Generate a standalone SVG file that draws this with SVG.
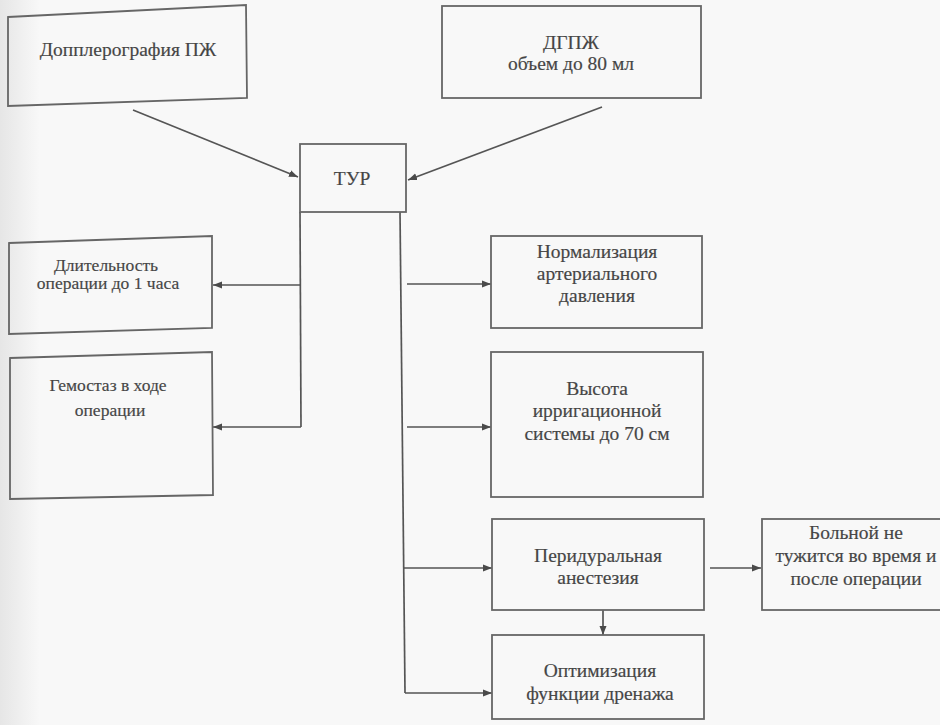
<svg xmlns="http://www.w3.org/2000/svg" width="940" height="725" viewBox="0 0 940 725">
  <defs>
    <linearGradient id="scan" x1="0" y1="0" x2="1" y2="0">
      <stop offset="0" stop-color="#e6e6e6"/>
      <stop offset="1" stop-color="#f8f8f8"/>
    </linearGradient>
    <marker id="ah" markerUnits="userSpaceOnUse" markerWidth="10" markerHeight="8" refX="9" refY="4" orient="auto">
      <path d="M0,0.5 L9,4 L0,7.5 z" fill="#4a4a4a"/>
    </marker>
    <style>
      .box { fill: none; stroke: #666; stroke-width: 1.8; }
      .con { fill: none; stroke: #555; stroke-width: 1.7; }
      .arr { marker-end: url(#ah); }
      text { font-family: "Liberation Serif", "DejaVu Serif", serif; fill: #444; stroke: #555; stroke-width: 0.2; text-anchor: middle; }
      .s18 { font-size: 17.5px; }
      .s20 { font-size: 19.5px; }
    </style>
  </defs>
  <rect x="0" y="0" width="940" height="725" fill="#f8f8f8"/>
  <rect x="0" y="0" width="40" height="725" fill="url(#scan)"/>

  <g id="connectors">
    <line class="con arr" x1="133" y1="110" x2="298" y2="177"/>
    <line class="con arr" x1="602" y1="107" x2="408" y2="180"/>
    <polyline class="con" points="300,212 301,427"/>
    <line class="con arr" x1="301" y1="285" x2="213" y2="285"/>
    <line class="con arr" x1="301" y1="427" x2="213" y2="427"/>
    <polyline class="con" points="400,212 405,693"/>
    <line class="con arr" x1="407" y1="284" x2="491" y2="284"/>
    <line class="con arr" x1="407" y1="427" x2="491" y2="427"/>
    <line class="con arr" x1="404" y1="568" x2="492" y2="568"/>
    <line class="con arr" x1="405" y1="693" x2="492" y2="693"/>
    <line class="con arr" x1="710" y1="568" x2="761" y2="568"/>
    <line class="con arr" x1="603" y1="610" x2="603" y2="635"/>
  </g>

  <g id="doppler">
    <polygon class="box" points="8,17 246,5 247,98 8,106"/>
    <text class="s20" x="128" y="56">Допплерография ПЖ</text>
  </g>
  <g id="dgpzh">
    <rect class="box" x="442" y="6" width="259" height="92"/>
    <text class="s20" x="571" y="49">ДГПЖ</text>
    <text class="s20" x="571" y="70">объем до 80 мл</text>
  </g>
  <g id="tur">
    <rect class="box" x="300" y="144" width="106" height="68"/>
    <text class="s20" x="352" y="185">ТУР</text>
  </g>
  <g id="duration">
    <polygon class="box" points="9,243 212,236 212,328 9,334"/>
    <text class="s18" x="106" y="271">Длительность</text>
    <text class="s18" x="108" y="289">операции до 1 часа</text>
  </g>
  <g id="hemostasis">
    <polygon class="box" points="10,358 212,352 213,495 10,499"/>
    <text class="s18" x="108" y="391">Гемостаз в ходе</text>
    <text class="s18" x="110" y="416">операции</text>
  </g>
  <g id="normalization">
    <rect class="box" x="491" y="236" width="211" height="92"/>
    <text class="s20" x="597" y="258">Нормализация</text>
    <text class="s20" x="597" y="280">артериального</text>
    <text class="s20" x="597" y="302">давления</text>
  </g>
  <g id="irrigation">
    <rect class="box" x="491" y="352" width="212" height="145"/>
    <text class="s20" x="597" y="395">Высота</text>
    <text class="s20" x="597" y="417">ирригационной</text>
    <text class="s20" x="597" y="440">системы до 70 см</text>
  </g>
  <g id="epidural">
    <rect class="box" x="492" y="519" width="212" height="91"/>
    <text class="s20" x="598" y="562">Перидуральная</text>
    <text class="s20" x="598" y="584">анестезия</text>
  </g>
  <g id="patient">
    <rect class="box" x="762" y="519" width="190" height="91"/>
    <text class="s20" x="856" y="539">Больной не</text>
    <text class="s20" x="856" y="562">тужится во время и</text>
    <text class="s20" x="856" y="585">после операции</text>
  </g>
  <g id="drainage">
    <rect class="box" x="492" y="635" width="212" height="84"/>
    <text class="s20" x="600" y="677">Оптимизация</text>
    <text class="s20" x="600" y="700">функции дренажа</text>
  </g>
</svg>
